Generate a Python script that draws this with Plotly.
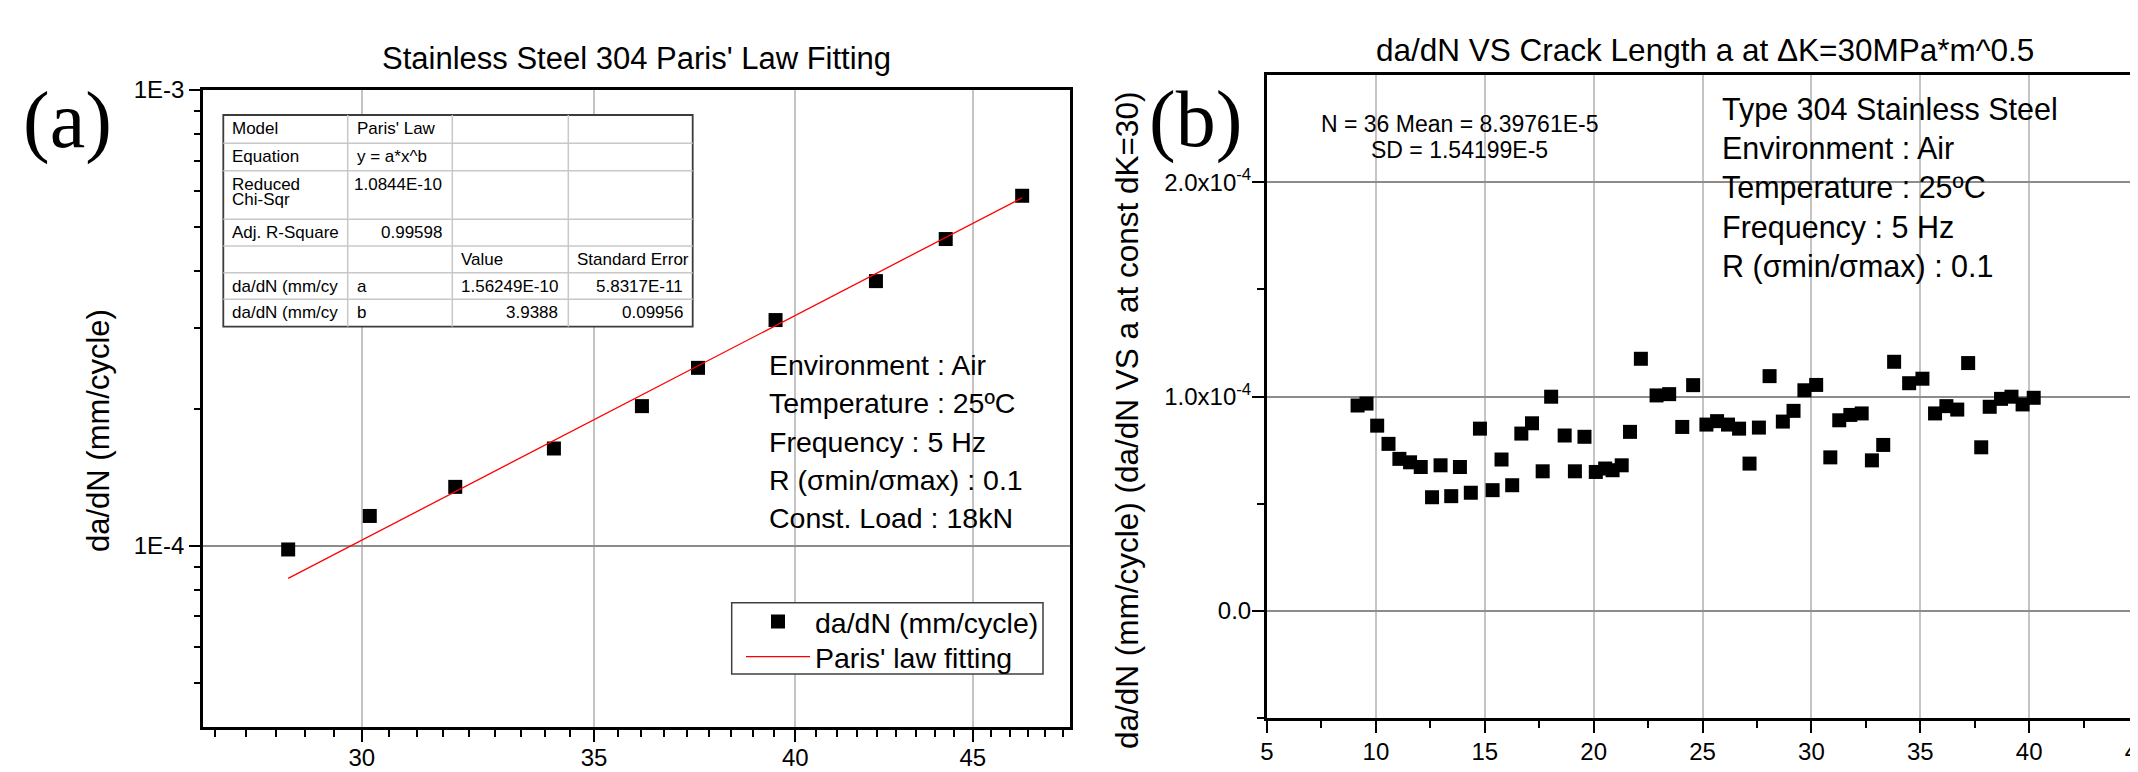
import math
import plotly.graph_objects as go

# page size and the 8px default body margin of the written html page
W, H = 2138, 772
OFF = 8
WF, HF = W - OFF, H - OFF

# ---------------- data: panel (a) Paris' law ----------------
a_dk = [28.57, 30.16, 31.92, 34.08, 36.13, 37.50, 39.48, 42.2, 44.2, 46.5]
a_dadn = [9.81e-5, 1.162e-4, 1.346e-4, 1.634e-4, 2.024e-4, 2.456e-4,
          3.127e-4, 3.807e-4, 4.709e-4, 5.86e-4]
fit_dk = [28.57, 46.5]
fit_dadn = [8.48e-5, 5.80e-4]

a_xticks = [30, 35, 40, 45]
a_yticks = [1e-4, 1e-3]
a_yticktext = ["1E-4", "1E-3"]

# ---------------- data: panel (b) da/dN vs crack length ----------------
b_a = [9.16, 9.57, 10.06, 10.58, 11.08, 11.57, 12.06, 12.58, 12.97, 13.46,
       13.86, 14.36, 14.78, 15.36, 15.77, 16.26, 16.68, 17.17, 17.66, 18.05,
       18.67, 19.14, 19.58, 20.10, 20.53, 20.87, 21.29, 21.67, 22.17, 22.89,
       23.47, 24.07, 24.57, 25.18, 25.67, 26.17, 26.68, 27.16, 27.59, 28.08,
       28.69, 29.18, 29.68, 30.22, 30.87, 31.28, 31.79, 32.31, 32.78, 33.30,
       33.80, 34.49, 35.10, 35.68, 36.20, 36.70, 37.20, 37.80, 38.19, 38.71,
       39.19, 39.70, 40.21]
b_dadn_e4 = [0.958, 0.967, 0.864, 0.779, 0.709, 0.693, 0.671, 0.530, 0.679, 0.535,
             0.671, 0.551, 0.850, 0.563, 0.706, 0.586, 0.827, 0.875, 0.651, 0.999,
             0.818, 0.651, 0.812, 0.648, 0.664, 0.656, 0.679, 0.835, 1.176, 1.005,
             1.011, 0.858, 1.053, 0.869, 0.885, 0.869, 0.850, 0.687, 0.855, 1.095,
             0.883, 0.933, 1.029, 1.054, 0.716, 0.889, 0.914, 0.921, 0.702, 0.774,
             1.162, 1.062, 1.083, 0.921, 0.955, 0.939, 1.156, 0.763, 0.952, 0.989,
             0.999, 0.963, 0.994]
b_dadn = [v * 1e-4 for v in b_dadn_e4]

b_yticks = [0, 1e-4, 2e-4]
b_yticktext = ["0.0", "1.0x10<sup>-4</sup>", "2.0x10<sup>-4</sup>"]

# ---------------- texts ----------------
title_a = "Stainless Steel 304 Paris' Law Fitting"
title_b = "da/dN VS Crack Length a at \u0394K=30MPa*m^0.5"
ytitle_a = "da/dN (mm/cycle)"
ytitle_b = "da/dN (mm/cycle) (da/dN VS a at const dK=30)"
notes_a = ["Environment : Air", "Temperature : 25\u00baC", "Frequency : 5 Hz",
           "R (\u03c3min/\u03c3max) : 0.1", "Const. Load : 18kN"]
notes_b = ["Type 304 Stainless Steel", "Environment : Air", "Temperature : 25\u00baC",
           "Frequency : 5 Hz", "R (\u03c3min/\u03c3max) : 0.1"]
stats_b = ["N = 36 Mean = 8.39761E-5", "SD = 1.54199E-5"]

table_col0 = ["Model", "Equation", "Reduced<br>Chi-Sqr", "Adj. R-Square", "", "da/dN (mm/cy", "da/dN (mm/cy"]
table_col1 = ["Paris' Law", "y = a*x^b", "1.0844E-10", "0.99598", "", "a", "b"]
table_col2 = ["", "", "", "", "Value", "1.56249E-10", "3.9388"]
table_col3 = ["", "", "", "", "Standard Error", "5.8317E-11", "0.09956"]

FONT = "Liberation Sans, Arial, sans-serif"
SERIF = "Liberation Serif, Times New Roman, serif"


def fx(p):
    return (p - OFF) / WF


def fy(p):
    return 1 - (p - OFF) / HF


fig = go.Figure()

fig.add_trace(go.Scatter(x=a_dk, y=a_dadn, mode="markers", name="da/dN (mm/cycle)",
                         marker=dict(symbol="square", size=14, color="black"),
                         xaxis="x", yaxis="y", legend="legend"))
fig.add_trace(go.Scatter(x=fit_dk, y=fit_dadn, mode="lines", name="Paris' law fitting",
                         line=dict(color="red", width=1.3), xaxis="x", yaxis="y",
                         legend="legend2"))
fig.add_trace(go.Scatter(x=b_a, y=b_dadn, mode="markers", showlegend=False,
                         marker=dict(symbol="square", size=14, color="black"),
                         xaxis="x2", yaxis="y2"))

tickfont = dict(family=FONT, size=24, color="black")

# minor tick positions (Origin style: 8 minor ticks between majors on panel a x)
a_xminor = [30 + k * 5 / 9 for k in range(-5, 33) if k % 9 != 0]
a_yminor = [m * 1e-5 for m in range(5, 10)] + [m * 1e-4 for m in range(2, 10)]

legend_common = dict(xanchor="left", yanchor="middle", bgcolor="rgba(0,0,0,0)",
                     borderwidth=0, itemwidth=64,
                     font=dict(family=FONT, size=28.5, color="black"))

fig.update_layout(
    width=WF, height=HF,
    margin=dict(l=0, r=0, t=0, b=0),
    paper_bgcolor="white", plot_bgcolor="white",
    font=dict(family=FONT, color="black"),
    xaxis=dict(
        type="log", domain=[fx(203), fx(1070)],
        range=[math.log10(27), math.log10(48)],
        tickmode="array", tickvals=a_xticks, ticktext=[str(v) for v in a_xticks],
        ticks="outside", ticklen=12, tickwidth=2, tickcolor="black",
        showline=True, linecolor="black", linewidth=2.5, mirror=True,
        showgrid=True, gridcolor="#c4c4c4", gridwidth=1.5, zeroline=False,
        tickfont=tickfont, automargin=False, anchor="y", ticklabelstandoff=-5,
        minor=dict(tickmode="array", tickvals=a_xminor, ticks="outside",
                   ticklen=7, tickwidth=2, tickcolor="black", showgrid=False),
    ),
    yaxis=dict(
        type="log", domain=[fy(727), fy(90)],
        range=[math.log10(4e-5), -3],
        tickmode="array", tickvals=a_yticks, ticktext=a_yticktext,
        ticks="outside", ticklen=11, tickwidth=2, tickcolor="black",
        showline=True, linecolor="black", linewidth=2.5, mirror=True,
        showgrid=True, gridcolor="#8c8c8c", gridwidth=1.5, zeroline=False,
        tickfont=tickfont, automargin=False, anchor="x",
        minor=dict(tickmode="array", tickvals=a_yminor, ticks="outside",
                   ticklen=6, tickwidth=2, tickcolor="black", showgrid=False),
    ),
    xaxis2=dict(
        domain=[fx(1267), 1.0], range=[5, 45],
        tick0=5, dtick=5, ticks="outside", ticklen=12, tickwidth=2, tickcolor="black",
        showline=True, linecolor="black", linewidth=3, mirror=True,
        showgrid=True, gridcolor="#c4c4c4", gridwidth=1.5, zeroline=False,
        tickfont=tickfont, automargin=False, anchor="y2", ticklabelstandoff=-2,
        ticklabeloverflow="allow",
        minor=dict(dtick=2.5, ticks="outside", ticklen=7, tickwidth=2,
                   tickcolor="black", showgrid=False),
    ),
    yaxis2=dict(
        domain=[fy(718), fy(75)], range=[-5e-5, 2.5e-4],
        tickmode="array", tickvals=b_yticks, ticktext=b_yticktext,
        ticks="outside", ticklen=12, tickwidth=2, tickcolor="black",
        showline=True, linecolor="black", linewidth=3, mirror=False,
        showgrid=True, gridcolor="#8c8c8c", gridwidth=1.5, zeroline=False,
        tickfont=tickfont, automargin=False, anchor="x2", ticklabelstandoff=-4,
        minor=dict(tickmode="array", tickvals=[-5e-5, 5e-5, 1.5e-4], ticks="outside",
                   ticklen=7, tickwidth=2, tickcolor="black", showgrid=False),
    ),
    legend=dict(x=fx(741), y=fy(622), **legend_common),
    legend2=dict(x=fx(741), y=fy(657), **legend_common),
    showlegend=True,
)

ann = []


def text(x, y, s, size, xanchor="center", family=FONT, angle=0):
    ann.append(dict(x=fx(x), y=fy(y), xref="paper", yref="paper", text=s,
                    showarrow=False, xanchor=xanchor, yanchor="middle",
                    textangle=angle, font=dict(family=family, size=size, color="black")))


# titles and panel letters
text(636, 58, title_a, 31)
text(1705, 50, title_b, 31.5)
text(67, 121, "(a)", 80, family=SERIF)
text(1195, 120, "(b)", 80, family=SERIF)
text(98, 431, ytitle_a, 31, angle=-90)
text(1127, 421, ytitle_b, 31.5, angle=-90)

# panel (a) notes
for i, s in enumerate(notes_a):
    text(767, 365 + 38.3 * i, s, 28.5, xanchor="left")
# panel (b) notes
for i, s in enumerate(notes_b):
    text(1720, 109 + 39.4 * i, s, 30.5, xanchor="left")
text(1459, 124, stats_b[0], 23)
text(1459, 150, stats_b[1], 23)

# legend frame (panel a)
shapes = [dict(type="rect", xref="paper", yref="paper",
               x0=fx(731.7), x1=fx(1043), y0=fy(674), y1=fy(602.7),
               fillcolor="white", line=dict(color="#404040", width=1.5), layer="above")]

# fit-result table (panel a)
col_edges = [223.3, 347.7, 452.3, 568.3, 692.7]
row_edges = [115, 143.3, 170.7, 219.3, 246, 272.7, 299.3, 326.7]
shapes.append(dict(type="rect", xref="paper", yref="paper",
                   x0=fx(col_edges[0]), x1=fx(col_edges[-1]),
                   y0=fy(row_edges[-1]), y1=fy(row_edges[0]),
                   fillcolor="white", line=dict(color="#3c3c3c", width=1.8), layer="above"))
for r in row_edges[1:-1]:
    shapes.append(dict(type="line", xref="paper", yref="paper",
                       x0=fx(col_edges[0]), x1=fx(col_edges[-1]), y0=fy(r), y1=fy(r),
                       line=dict(color="#c8c8c8", width=1.5), layer="above"))
for c in col_edges[1:-1]:
    shapes.append(dict(type="line", xref="paper", yref="paper",
                       x0=fx(c), x1=fx(c), y0=fy(row_edges[0]), y1=fy(row_edges[-1]),
                       line=dict(color="#c8c8c8", width=1.5), layer="above"))


def is_num(s):
    try:
        float(s)
        return True
    except ValueError:
        return False


for ci, col in enumerate([table_col0, table_col1, table_col2, table_col3]):
    for ri, cell in enumerate(col):
        if not cell:
            continue
        for li, line in enumerate(cell.split("<br>")):
            ycen = row_edges[ri] + 13.5 + 15 * li
            if is_num(line):
                text(col_edges[ci + 1] - 8, ycen, line, 17, xanchor="right")
            else:
                text(col_edges[ci] + 7, ycen, line, 17, xanchor="left")

fig.update_layout(annotations=ann, shapes=shapes)

fig.write_html("out.html")
